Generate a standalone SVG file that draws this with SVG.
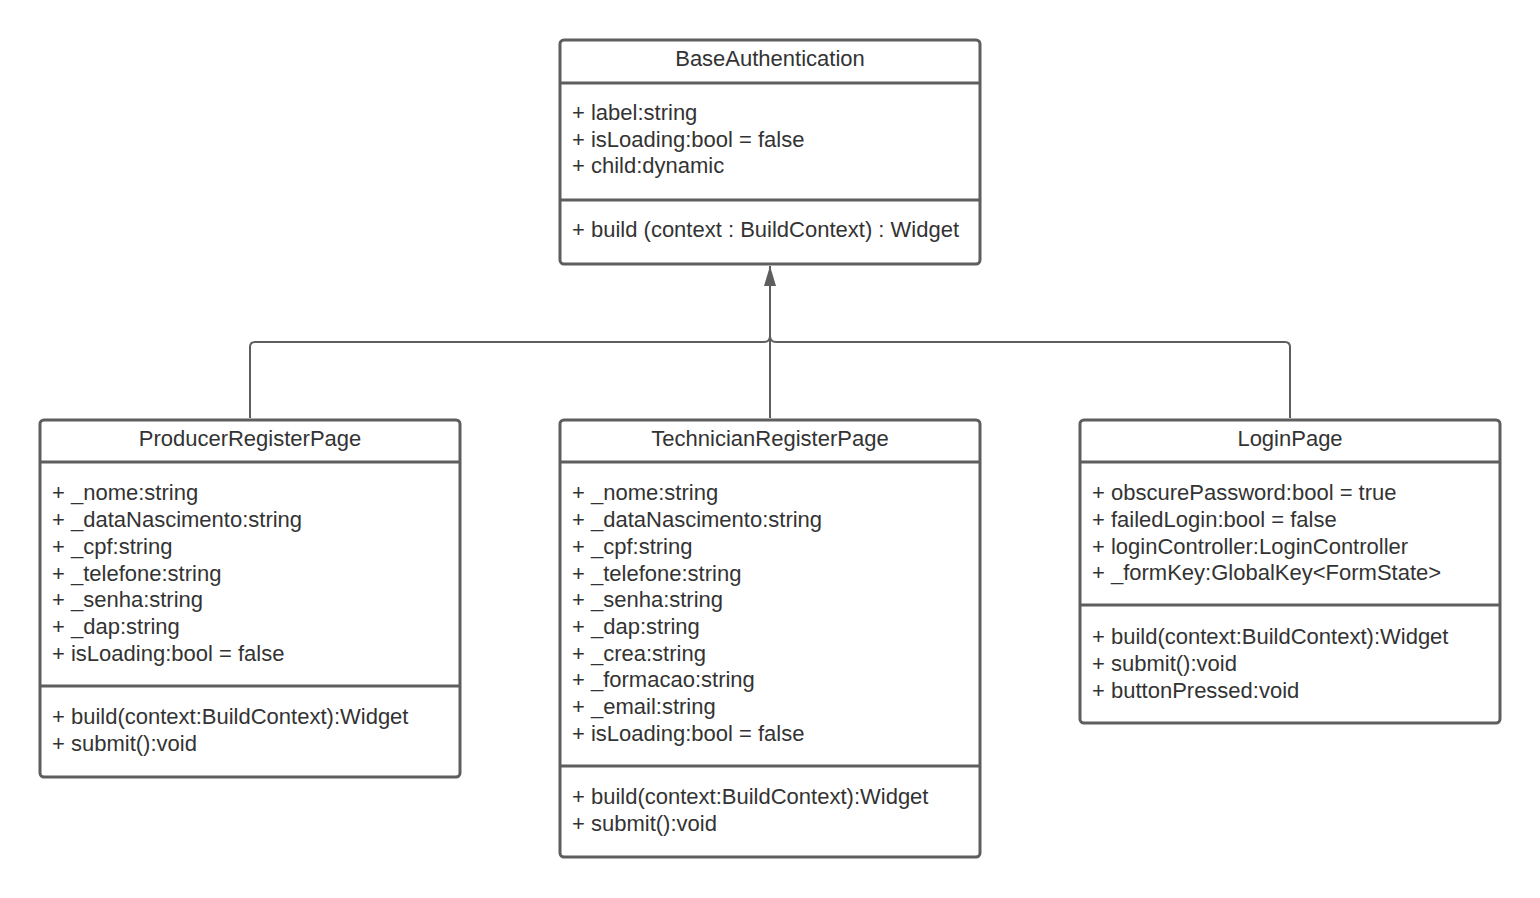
<svg xmlns="http://www.w3.org/2000/svg" width="1540" height="898" viewBox="0 0 1540 898">
<style>
.box{fill:#fff;stroke:#5e5e5e;stroke-width:3}
.div{stroke:#5e5e5e;stroke-width:3}
.t{font-family:"Liberation Sans",Arial,sans-serif;font-size:22px;fill:#333}
.h{text-anchor:middle}
.c{fill:none;stroke:#5e5e5e;stroke-width:2}
</style>
<defs>
<marker id="arr" viewBox="0 0 20 12" refX="20" refY="6" markerWidth="20" markerHeight="12" markerUnits="userSpaceOnUse" orient="auto">
<path d="M20 6 L0 0 L0 12 Z" fill="#5e5e5e"/>
</marker>
</defs>
<rect width="1540" height="898" fill="#fff"/>
<g id="connectors">
<path class="c" d="M770 418 V266" marker-end="url(#arr)"/>
<path class="c" d="M250 418 V347 Q250 342 255 342 H764 Q770 342 770 336"/>
<path class="c" d="M1290 418 V347 Q1290 342 1285 342 H776 Q770 342 770 336"/>
</g>
<g id="BaseAuthentication">
<rect class="box" x="560" y="40" width="420" height="224" rx="4"/>
<line class="div" x1="560" y1="83" x2="980" y2="83"/>
<line class="div" x1="560" y1="200" x2="980" y2="200"/>
<text class="t h" x="770" y="66">BaseAuthentication</text>
<text class="t" x="572" y="120">+ label:string</text>
<text class="t" x="572" y="147">+ isLoading:bool = false</text>
<text class="t" x="572" y="173">+ child:dynamic</text>
<text class="t" x="572" y="237">+ build (context : BuildContext) : Widget</text>
</g>
<g id="ProducerRegisterPage">
<rect class="box" x="40" y="420" width="420" height="357" rx="4"/>
<line class="div" x1="40" y1="462" x2="460" y2="462"/>
<line class="div" x1="40" y1="686" x2="460" y2="686"/>
<text class="t h" x="250" y="446">ProducerRegisterPage</text>
<text class="t" x="52" y="500">+ _nome:string</text>
<text class="t" x="52" y="527">+ _dataNascimento:string</text>
<text class="t" x="52" y="554">+ _cpf:string</text>
<text class="t" x="52" y="581">+ _telefone:string</text>
<text class="t" x="52" y="607">+ _senha:string</text>
<text class="t" x="52" y="634">+ _dap:string</text>
<text class="t" x="52" y="661">+ isLoading:bool = false</text>
<text class="t" x="52" y="724">+ build(context:BuildContext):Widget</text>
<text class="t" x="52" y="751">+ submit():void</text>
</g>
<g id="TechnicianRegisterPage">
<rect class="box" x="560" y="420" width="420" height="437" rx="4"/>
<line class="div" x1="560" y1="462" x2="980" y2="462"/>
<line class="div" x1="560" y1="766" x2="980" y2="766"/>
<text class="t h" x="770" y="446">TechnicianRegisterPage</text>
<text class="t" x="572" y="500">+ _nome:string</text>
<text class="t" x="572" y="527">+ _dataNascimento:string</text>
<text class="t" x="572" y="554">+ _cpf:string</text>
<text class="t" x="572" y="581">+ _telefone:string</text>
<text class="t" x="572" y="607">+ _senha:string</text>
<text class="t" x="572" y="634">+ _dap:string</text>
<text class="t" x="572" y="661">+ _crea:string</text>
<text class="t" x="572" y="687">+ _formacao:string</text>
<text class="t" x="572" y="714">+ _email:string</text>
<text class="t" x="572" y="741">+ isLoading:bool = false</text>
<text class="t" x="572" y="804">+ build(context:BuildContext):Widget</text>
<text class="t" x="572" y="831">+ submit():void</text>
</g>
<g id="LoginPage">
<rect class="box" x="1080" y="420" width="420" height="303" rx="4"/>
<line class="div" x1="1080" y1="462" x2="1500" y2="462"/>
<line class="div" x1="1080" y1="605" x2="1500" y2="605"/>
<text class="t h" x="1290" y="446">LoginPage</text>
<text class="t" x="1092" y="500">+ obscurePassword:bool = true</text>
<text class="t" x="1092" y="527">+ failedLogin:bool = false</text>
<text class="t" x="1092" y="554">+ loginController:LoginController</text>
<text class="t" x="1092" y="580">+ _formKey:GlobalKey&lt;FormState&gt;</text>
<text class="t" x="1092" y="644">+ build(context:BuildContext):Widget</text>
<text class="t" x="1092" y="671">+ submit():void</text>
<text class="t" x="1092" y="698">+ buttonPressed:void</text>
</g>
</svg>
